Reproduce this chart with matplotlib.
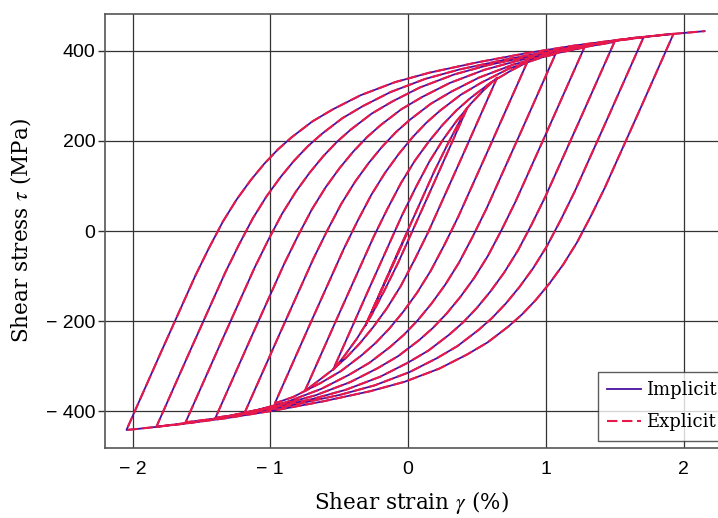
import numpy as np
import matplotlib.pyplot as plt

plt.rcParams['mathtext.fontset'] = 'stix'

# hysteresis path, one list of (strain %, stress MPa) per branch
b00 = [(0.0, 0), (-0.155, -106), (-0.31, -210)]
b01 = [(-0.31, -210), (-0.06, -38), (0.19, 132), (0.29, 194), (0.39, 252), (0.43, 273)]
b02 = [(0.43, 273), (0.18, 101), (-0.07, -69), (-0.17, -131), (-0.27, -189), (-0.37, -238),
       (-0.47, -280), (-0.545, -308)]
b03 = [(-0.545, -308), (-0.295, -136), (-0.045, 34), (0.055, 96), (0.155, 154), (0.255, 203),
       (0.355, 245), (0.455, 282), (0.555, 314), (0.647, 340)]
b04 = [(0.647, 340), (0.397, 168), (0.147, -2), (0.047, -64), (-0.053, -122), (-0.153, -171),
       (-0.253, -213), (-0.353, -250), (-0.453, -282), (-0.553, -309), (-0.703, -344),
       (-0.75, -355)]
b05 = [(-0.75, -355), (-0.5, -183), (-0.25, -13), (-0.15, 49), (-0.05, 107), (0.05, 156),
       (0.15, 198), (0.25, 235), (0.35, 267), (0.45, 294), (0.6, 329), (0.75, 356), (0.865, 374)]
b06 = [(0.865, 374), (0.615, 202), (0.365, 32), (0.265, -30), (0.165, -88), (0.065, -137),
       (-0.035, -179), (-0.135, -216), (-0.235, -248), (-0.335, -275), (-0.485, -310),
       (-0.635, -337), (-0.835, -368), (-0.967, -382)]
b07 = [(-0.967, -382), (-0.717, -210), (-0.467, -40), (-0.367, 22), (-0.267, 80), (-0.167, 129),
       (-0.067, 171), (0.033, 208), (0.133, 240), (0.233, 267), (0.383, 302), (0.533, 329),
       (0.733, 360), (0.983, 386), (1.07, 392)]
b08 = [(1.07, 392), (0.82, 220), (0.57, 50), (0.47, -12), (0.37, -70), (0.27, -119), (0.17, -161),
       (0.07, -198), (-0.03, -230), (-0.13, -257), (-0.28, -292), (-0.43, -319), (-0.63, -350),
       (-0.88, -379), (-1.13, -400), (-1.185, -402)]
b09 = [(-1.185, -402), (-0.935, -230), (-0.685, -60), (-0.585, 2), (-0.485, 60), (-0.385, 109),
       (-0.285, 151), (-0.185, 188), (-0.085, 220), (0.015, 247), (0.165, 282), (0.315, 309),
       (0.515, 340), (0.765, 369), (1.015, 390), (1.28, 407)]
b10 = [(1.28, 407), (1.03, 235), (0.78, 65), (0.68, 3), (0.58, -55), (0.48, -104), (0.38, -146),
       (0.28, -183), (0.18, -215), (0.08, -242), (-0.07, -277), (-0.22, -304), (-0.42, -335),
       (-0.67, -364), (-0.92, -385), (-1.27, -408), (-1.398, -414)]
b11 = [(-1.398, -414), (-1.148, -242), (-0.898, -72), (-0.798, -10), (-0.698, 48), (-0.598, 97),
       (-0.498, 139), (-0.398, 176), (-0.298, 208), (-0.198, 235), (-0.048, 270), (0.102, 297),
       (0.302, 328), (0.552, 357), (0.802, 378), (1.152, 401), (1.498, 419)]
b12 = [(1.498, 419), (1.248, 247), (0.998, 77), (0.898, 15), (0.798, -43), (0.698, -92),
       (0.598, -134), (0.498, -171), (0.398, -203), (0.298, -230), (0.148, -265), (-0.002, -292),
       (-0.202, -323), (-0.452, -352), (-0.702, -373), (-1.052, -396), (-1.402, -416),
       (-1.615, -424)]
b13 = [(-1.615, -424), (-1.365, -252), (-1.115, -82), (-1.015, -20), (-0.915, 38), (-0.815, 87),
       (-0.715, 129), (-0.615, 166), (-0.515, 198), (-0.415, 225), (-0.265, 260), (-0.115, 287),
       (0.085, 318), (0.335, 347), (0.585, 368), (0.935, 391), (1.285, 411), (1.635, 428),
       (1.709, 429)]
b14 = [(1.709, 429), (1.459, 257), (1.209, 87), (1.109, 25), (1.009, -33), (0.909, -82),
       (0.809, -124), (0.709, -161), (0.609, -193), (0.509, -220), (0.359, -255), (0.209, -282),
       (0.009, -313), (-0.241, -342), (-0.491, -363), (-0.841, -386), (-1.191, -406),
       (-1.541, -423), (-1.827, -434)]
b15 = [(-1.827, -434), (-1.577, -262), (-1.327, -92), (-1.227, -30), (-1.127, 28), (-1.027, 77),
       (-0.927, 119), (-0.827, 156), (-0.727, 188), (-0.627, 215), (-0.477, 250), (-0.327, 277),
       (-0.127, 308), (0.123, 337), (0.373, 358), (0.723, 381), (1.073, 401), (1.423, 418),
       (1.773, 432), (1.927, 437)]
b16 = [(1.927, 437), (1.677, 265), (1.427, 95), (1.327, 33), (1.227, -25), (1.127, -74),
       (1.027, -116), (0.927, -153), (0.827, -185), (0.727, -212), (0.577, -247), (0.427, -274),
       (0.227, -305), (-0.023, -334), (-0.273, -355), (-0.623, -378), (-0.973, -398),
       (-1.323, -415), (-1.673, -429), (-1.973, -439), (-2.044, -441)]
b17 = [(-2.044, -441), (-1.794, -269), (-1.544, -99), (-1.444, -37), (-1.344, 21), (-1.244, 70),
       (-1.144, 112), (-1.044, 149), (-0.944, 181), (-0.844, 208), (-0.694, 243), (-0.544, 270),
       (-0.344, 301), (-0.094, 330), (0.156, 351), (0.506, 374), (0.856, 394), (1.206, 411),
       (1.556, 425), (1.856, 435), (2.153, 443)]

branches = [b00, b01, b02, b03, b04, b05, b06, b07, b08, b09,
            b10, b11, b12, b13, b14, b15, b16, b17]

x_ticks = [-2, -1, 0, 1, 2]
x_labels = ['\u2212 2', '\u2212 1', '0', '1', '2']
y_ticks = [-400, -200, 0, 200, 400]
y_labels = ['\u2212 400', '\u2212 200', '0', '200', '400']

# one continuous strain path, the two schemes lie on top of each other
path = []
for br in branches:
    if path:
        path.extend(br[1:])
    else:
        path.extend(br)
path = np.array(path)

fig = plt.figure(figsize=(7.18, 5.18), dpi=100)
ax = fig.add_axes([105 / 718, 70 / 518, 613 / 718, 434 / 518])

ax.plot(path[:, 0], path[:, 1], color='#4b0fa0', lw=1.3, label='Implicit', zorder=3)
ax.plot(path[:, 0], path[:, 1], color='#e8194a', lw=1.5, dashes=(5, 2.2), label='Explicit',
        zorder=4)

ax.set_xlim(-2.2, 2.25)
ax.set_ylim(-481, 481)
ax.set_xticks(x_ticks)
ax.set_xticklabels(x_labels, family='Liberation Sans', fontsize=14)
ax.set_yticks(y_ticks)
ax.set_yticklabels(y_labels, family='Liberation Sans', fontsize=14)
ax.tick_params(axis='x', length=0, pad=9)
ax.tick_params(axis='y', length=5, width=1, color='#333333', pad=2)
ax.grid(True, color='#333333', lw=0.9, zorder=1)

for side in ['left', 'bottom', 'top']:
    ax.spines[side].set_color('#555555')
    ax.spines[side].set_linewidth(1.2)
ax.spines['right'].set_visible(False)

ax.set_xlabel(r'Shear strain $\gamma$ (%)', family='DejaVu Serif', fontsize=15.5, labelpad=8)
ax.set_ylabel(r'Shear stress $\tau$ (MPa)', family='DejaVu Serif', fontsize=15.5, labelpad=9)

leg = ax.legend(loc='upper left', bbox_to_anchor=(598 / 718, 1 - 372 / 518),
                bbox_transform=fig.transFigure, frameon=True, fancybox=False,
                prop={'family': 'DejaVu Serif', 'size': 13}, handlelength=1.9,
                borderpad=0.5, labelspacing=0.8, handletextpad=0.25, borderaxespad=0)
leg.get_frame().set_edgecolor('#333333')
leg.get_frame().set_linewidth(1.0)
leg.set_zorder(10)

fig.savefig('out.png', dpi=100)
